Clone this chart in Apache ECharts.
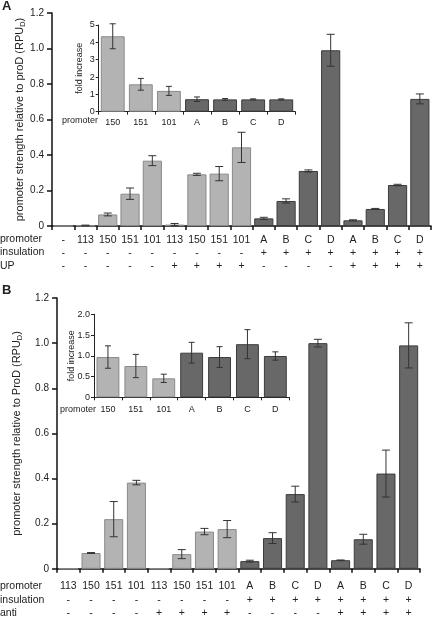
<!DOCTYPE html>
<html>
<head>
<meta charset="utf-8">
<script src="https://cdn.jsdelivr.net/npm/echarts@6/dist/echarts.min.js"></script>
<style>html,body{margin:0;padding:0;background:#fff;}#c{width:432px;height:620px;}</style>
</head>
<body>
<div id="c"></div>
<script>
// ---- Panel A data ----
const promoterA = ['-','113','150','151','101','113','150','151','101','A','B','C','D','A','B','C','D'];
const insulationA = ['-','-','-','-','-','-','-','-','-','+','+','+','+','+','+','+','+'];
const upA = ['-','-','-','-','-','+','+','+','+','-','-','-','-','+','+','+','+'];
const valuesA = [0, 0.003, 0.065, 0.182, 0.368, 0.008, 0.291, 0.295, 0.443, 0.043, 0.141, 0.31, 0.99, 0.032, 0.096, 0.231, 0.716];
const errorsA = [0, 0.002, 0.008, 0.032, 0.028, 0.006, 0.006, 0.04, 0.085, 0.006, 0.012, 0.006, 0.09, 0.003, 0.003, 0.004, 0.028];
// inset A
const insetCats = ['150','151','101','A','B','C','D'];
const insetAValues = [4.35, 1.58, 1.2, 0.72, 0.71, 0.71, 0.71];
const insetAErrors = [0.72, 0.34, 0.26, 0.13, 0.05, 0.03, 0.03];
// ---- Panel B data ----
const promoterB = ['113','150','151','101','113','150','151','101','A','B','C','D','A','B','C','D'];
const insulationB = ['-','-','-','-','-','-','-','-','+','+','+','+','+','+','+','+'];
const antiB = ['-','-','-','-','+','+','+','+','-','-','-','-','+','+','+','+'];
const valuesB = [0, 0.07, 0.22, 0.382, 0, 0.065, 0.165, 0.176, 0.034, 0.136, 0.331, 1.0, 0.038, 0.131, 0.422, 0.99];
const errorsB = [0, 0.002, 0.078, 0.01, 0, 0.02, 0.014, 0.038, 0.004, 0.024, 0.035, 0.017, 0.001, 0.022, 0.104, 0.1];
// inset B
const insetBValues = [0.97, 0.754, 0.457, 1.075, 0.97, 1.28, 0.995];
const insetBErrors = [0.27, 0.28, 0.1, 0.25, 0.25, 0.35, 0.1];

const FONT = 'Liberation Sans, Arial, Helvetica, sans-serif';
const TXT = '#222';
const LIGHT = '#b3b3b3', LIGHT_B = '#8a8a8a';
const DARK = '#686868', DARK_B = '#3c3c3c';
const isDark = n => /^[A-D]$/.test(n);

function barData(vals, names) {
  return vals.map((v, i) => ({
    value: v,
    itemStyle: { color: isDark(names[i]) ? DARK : LIGHT, borderColor: isDark(names[i]) ? DARK_B : LIGHT_B, borderWidth: 1 }
  }));
}
function errSeries(vals, errs, gi, cap) {
  return {
    type: 'custom', xAxisIndex: gi, yAxisIndex: gi, z: 5,
    encode: { x: 0, y: 1 },
    data: vals.map((v, i) => [i, v, errs[i]]),
    renderItem: function (params, api) {
      const x = api.value(0), v = api.value(1), e = api.value(2);
      if (!e) return;
      const t = api.coord([x, v + e]), b = api.coord([x, Math.max(0, v - e)]);
      const st = { stroke: '#333', lineWidth: 1 };
      return { type: 'group', children: [
        { type: 'line', shape: { x1: t[0], y1: t[1], x2: b[0], y2: b[1] }, style: st },
        { type: 'line', shape: { x1: t[0] - cap, y1: t[1], x2: t[0] + cap, y2: t[1] }, style: st },
        { type: 'line', shape: { x1: b[0] - cap, y1: b[1], x2: b[0] + cap, y2: b[1] }, style: st }
      ]};
    }
  };
}
const axisLineMain = { show: true, lineStyle: { color: '#111', width: 1.5 } };
const axisLineInset = { show: true, lineStyle: { color: '#222', width: 1 } };

function mainY(gi, gap) {
  return {
    gridIndex: gi, type: 'value', min: 0, max: 1.2, interval: 0.2,
    axisLine: axisLineMain, axisTick: { show: true, length: 5, lineStyle: { color: '#111', width: 1.5 } },
    splitLine: { show: false },
    axisLabel: { fontFamily: FONT, fontSize: 10, color: TXT, margin: 8, formatter: v => v === 0 ? '0' : v.toFixed(1) },
    name: '{a|promoter strength relative to ' + (gi === 0 ? 'proD' : 'ProD') + ' (RPU}{b|D}{a|)}',
    nameLocation: 'middle', nameGap: gap, nameMoveOverlap: false,
    nameTextStyle: { fontFamily: FONT, color: TXT, rich: {
      a: { fontFamily: FONT, fontSize: 11, color: TXT, lineHeight: 14 },
      b: { fontFamily: FONT, fontSize: 7.5, color: TXT, lineHeight: 8, verticalAlign: 'bottom' }
    } }
  };
}
function insetY(gi, max, interval, gap, fmt) {
  return {
    gridIndex: gi, type: 'value', min: 0, max: max, interval: interval,
    axisLine: axisLineInset, axisTick: { show: true, length: 3, lineStyle: { color: '#222' } },
    splitLine: { show: false },
    axisLabel: { fontFamily: FONT, fontSize: 9, color: TXT, margin: 4, formatter: fmt },
    name: 'fold increase', nameLocation: 'middle', nameGap: gap, nameMoveOverlap: false,
    nameTextStyle: { fontFamily: FONT, fontSize: 9, color: TXT }
  };
}
function mainX(gi, cats, r2, r3, margin) {
  return {
    gridIndex: gi, type: 'category', data: cats,
    axisLine: axisLineMain, axisTick: { show: true, length: 4, lineStyle: { color: '#111', width: 1.5 } },
    axisLabel: { interval: 0, fontFamily: FONT, fontSize: 10.5, color: TXT, lineHeight: 13.4, margin: margin,
      formatter: (v, i) => cats[i] + '\n' + r2[i] + '\n' + r3[i] }
  };
}
function insetX(gi, margin) {
  return {
    gridIndex: gi, type: 'category', data: insetCats,
    axisLine: axisLineInset, axisTick: { show: true, length: 3, lineStyle: { color: '#222' } },
    axisLabel: { interval: 0, fontFamily: FONT, fontSize: 9, color: TXT, margin: margin }
  };
}
function txt(text, x, y, size, weight) {
  return { type: 'text', left: x, top: y, style: { text: text, font: (weight || 'normal') + ' ' + size + 'px ' + FONT, fill: TXT } };
}

const chart = echarts.init(document.getElementById('c'), null, { renderer: 'canvas' });
chart.setOption({
  animation: false,
  backgroundColor: '#fff',
  grid: [
    { left: 52, top: 13, width: 379, height: 213 },
    { left: 98.7, top: 25, width: 196.6, height: 86.7 },
    { left: 57, top: 298, width: 363, height: 271 },
    { left: 94, top: 314.3, width: 195.3, height: 83 }
  ],
  xAxis: [
    mainX(0, promoterA, insulationA, upA, 7),
    insetX(1, 6),
    mainX(2, promoterB, insulationB, antiB, 11),
    insetX(3, 8)
  ],
  yAxis: [
    mainY(0, 25),
    insetY(1, 5, 1, 15, v => String(v)),
    mainY(2, 33),
    insetY(3, 2, 0.5, 18, v => v === 0 ? '0' : v.toFixed(1))
  ],
  series: [
    { type: 'bar', xAxisIndex: 0, yAxisIndex: 0, barWidth: '86%', data: barData(valuesA, promoterA) },
    errSeries(valuesA, errorsA, 0, 4),
    { type: 'bar', xAxisIndex: 1, yAxisIndex: 1, barWidth: '85%', data: barData(insetAValues, insetCats) },
    errSeries(insetAValues, insetAErrors, 1, 3),
    { type: 'bar', xAxisIndex: 2, yAxisIndex: 2, barWidth: '84%', data: barData(valuesB, promoterB) },
    errSeries(valuesB, errorsB, 2, 4),
    { type: 'bar', xAxisIndex: 3, yAxisIndex: 3, barWidth: '82%', data: barData(insetBValues, insetCats) },
    errSeries(insetBValues, insetBErrors, 3, 3)
  ],
  graphic: [
    txt('A', 2, 0, 13, 'bold'),
    txt('B', 2, 284, 13, 'bold'),
    txt('promoter', 0, 234, 10.5),
    txt('insulation', 0, 247, 10.5),
    txt('UP', 0, 260.5, 10.5),
    txt('promoter', 0, 581, 10.5),
    txt('insulation', 0, 594.5, 10.5),
    txt('anti', 0, 608, 10.5),
    txt('promoter', 62, 116.5, 9),
    txt('promoter', 60, 405, 9)
  ]
});
</script>
</body>
</html>
